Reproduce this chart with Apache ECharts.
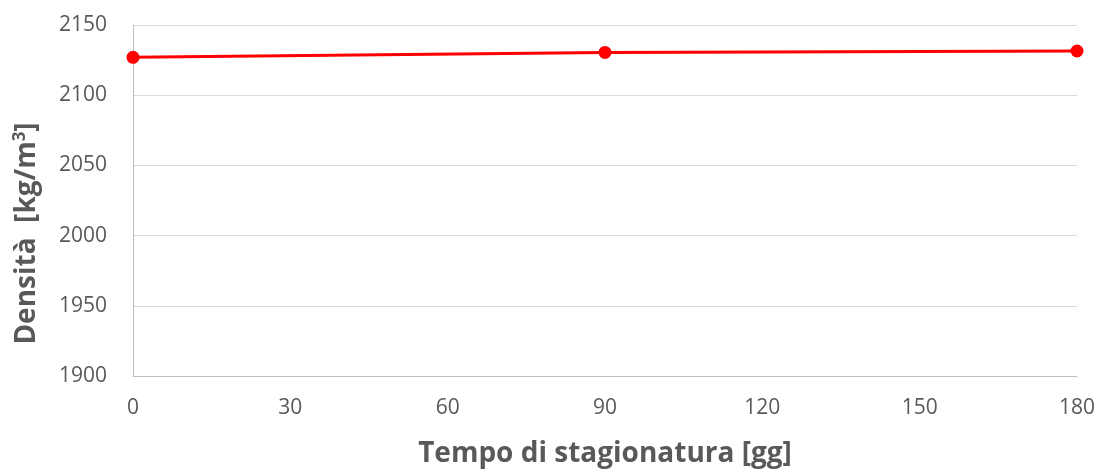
<!DOCTYPE html>
<html><head><meta charset="utf-8">
<script src="https://cdn.jsdelivr.net/npm/echarts@6/dist/echarts.min.js"></script>
<style>html,body{margin:0;padding:0;background:#fff}#c{width:1099px;height:470px}</style>
</head><body><div id="c"></div>
<script>
const days = [0, 90, 180];
const density = [2127, 2130.5, 2131.5];
const xTicks = [0, 30, 60, 90, 120, 150, 180];
const yTicks = [1900, 1950, 2000, 2050, 2100, 2150];

const chart = echarts.init(document.getElementById('c'));
chart.setOption({
  animation: false,
  grid: { left: 133, right: 22, top: 25, bottom: 94, containLabel: false, outerBoundsMode: 'none' },
  xAxis: {
    type: 'value', min: xTicks[0], max: xTicks[xTicks.length-1], interval: 30,
    name: 'Tempo di stagionatura [gg]', nameLocation: 'middle', nameGap: 64,
    nameTextStyle: { fontFamily: 'Open Sans', fontWeight: 'bold', fontSize: 28, color: '#595959' },
    axisLine: { show: true, lineStyle: { color: '#bfbfbf', width: 1 } },
    axisTick: { show: false },
    splitLine: { show: false },
    axisLabel: { color: '#595959', fontFamily: 'Open Sans', fontSize: 21, margin: 22, formatter: v => String(v) }
  },
  yAxis: {
    type: 'value', min: yTicks[0], max: yTicks[yTicks.length-1], interval: 50,
    name: '{t|Densità  [kg/m}{s|3}{t|]}', nameLocation: 'middle', nameGap: 90, nameRotate: 90,
    nameTextStyle: { padding: [0, 66, 0, 0], rich: {
      t: { fontFamily: 'Open Sans', fontWeight: 'bold', fontSize: 28, color: '#595959' },
      s: { fontFamily: 'Open Sans', fontWeight: 'bold', fontSize: 17, color: '#595959', verticalAlign: 'top', padding: [0,0,14,0] }
    } },
    axisLine: { show: true, lineStyle: { color: '#bfbfbf', width: 1 } },
    axisTick: { show: false },
    splitLine: { show: true, lineStyle: { color: '#d9d9d9', width: 1 } },
    axisLabel: { color: '#595959', fontFamily: 'Open Sans', fontSize: 21, margin: 26, formatter: v => String(v) }
  },
  series: [{
    type: 'line',
    data: days.map((d, i) => [d, density[i]]),
    lineStyle: { color: '#ff0000', width: 3 },
    itemStyle: { color: '#ff0000' },
    symbol: 'circle', symbolSize: 13,
    z: 5
  }]
});
</script></body></html>
